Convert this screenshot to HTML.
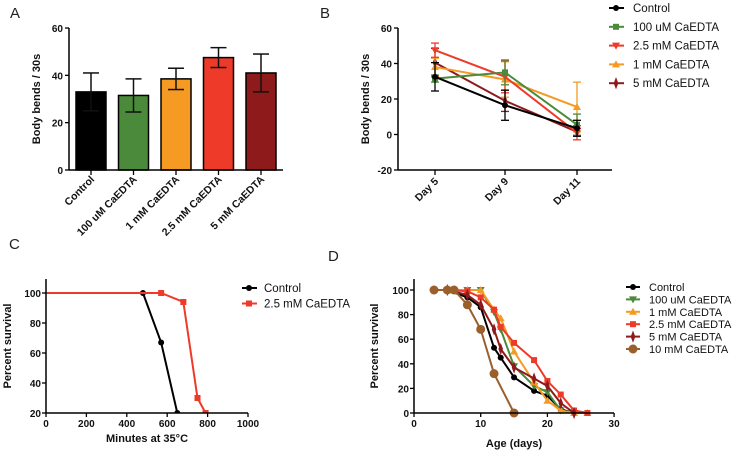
<!DOCTYPE html>
<html><head><meta charset="utf-8"><style>
body{margin:0;background:#fff;}
svg{display:block;font-family:"Liberation Sans",Arial,sans-serif;}
.tk{font-size:10px;font-weight:bold;fill:#111;}
.lg{font-size:11.5px;fill:#111;}
.pl{font-size:15px;fill:#222;}
.at{font-size:11px;font-weight:bold;fill:#111;}
</style></head><body>
<svg id="s" width="732" height="450" viewBox="0 0 732 450"></svg>
<script>
// Panel A data
const aCats=["Control","100 uM CaEDTA","1 mM CaEDTA","2.5 mM CaEDTA","5 mM CaEDTA"];
const aVals=[33,31.5,38.5,47.5,41];
const aErr=[8,7,4.5,4.2,8];
const aColors=["#000000","#4b8a3a","#f59a23","#ee3a28","#8e1a1c"];
// Panel B data
const bDays=["Day 5","Day 9","Day 11"];
const bNames=["Control","100 uM CaEDTA","2.5 mM CaEDTA","1 mM CaEDTA","5 mM CaEDTA"];
const bColors=["#000000","#4b8a3a","#ee3a28","#f59a23","#8e1a1c"];
const bVals=[[32.5,16.5,3.5],[31.5,35,5.5],[47.5,32.5,1],[38,31,15.5],[40.5,19,1.5]];
const bErr=[[8,8.5,4.5],[2,7,6],[4,9,4],[5,10,14],[8,6,2]];
const bTicks=[-20,0,20,40,60];
// Panel C data
const cNames=["Control","2.5 mM CaEDTA"];
const cColors=["#000000","#ee3a28"];
const cX=[[0,480,570,650],[0,570,680,750,790]];
const cY=[[100,100,67,20],[100,100,94,30,20]];
const cXT=[0,200,400,600,800,1000];
const cYT=[20,40,60,80,100];
// Panel D data
const dNames=["Control","100 uM CaEDTA","1 mM CaEDTA","2.5 mM CaEDTA","5 mM CaEDTA","10 mM CaEDTA"];
const dColors=["#000000","#4b8a3a","#f59a23","#ee3a28","#8e1a1c","#9a5f2a"];
const dX=[[5,8,10,12,13,15,18,20,22,24],[5,8,10,12,13,15,18,20,22,24],[5,8,10,12,13,15,18,20,22,24,26],[5,8,10,12,13,15,18,20,22,24,26],[5,8,10,12,13,15,18,20,22,24],[3,5,6,8,10,12,15]];
const dY=[[100,94,86,53,45,29,18,14,3,0],[100,100,100,82,68,38,22,17,2,0],[100,100,100,84,77,50,25,10,2,0,0],[100,99,94,84,70,57,43,26,15,2,0],[100,96,88,68,52,37,28,22,8,0],[100,100,100,88,68,32,0]];
const dXT=[0,10,20,30];
const dYT=[0,20,40,60,80,100];

const S=document.getElementById('s');const NS='http://www.w3.org/2000/svg';
function el(t,a,p){const e=document.createElementNS(NS,t);for(const k in a)e.setAttribute(k,a[k]);(p||S).appendChild(e);return e;}
function tx(x,y,s,c,a,nm,extra){const e=el('text',Object.assign({x:x,y:y,class:c,'text-anchor':a||'middle'},extra||{}));e.textContent=s;


return e;}
function ln(x1,y1,x2,y2,c,w,nm){const e=el('line',{x1,y1,x2,y2,stroke:c,'stroke-width':w});


return e;}
function marker(g,x,y,c,type,r){let e;
 if(type=='sq')e=el('rect',{x:x-3,y:y-3,width:6,height:6,fill:c},g);
 else if(type=='up')e=el('polygon',{points:`${x},${y-4} ${x-4},${y+3} ${x+4},${y+3}`,fill:c},g);
 else if(type=='dn')e=el('polygon',{points:`${x},${y+4} ${x-4},${y-3} ${x+4},${y-3}`,fill:c},g);
 else if(type=='st')e=el('polygon',{points:`${x},${y-4} ${x+1.5},${y} ${x},${y+4} ${x-1.5},${y}`,fill:c,stroke:c,'stroke-width':1.5},g);
 else e=el('circle',{cx:x,cy:y,r:r||3,fill:c},g);
 
 
}
// panel labels
tx(10,18,'A','pl','start','panel-label-a');tx(320,18,'B','pl','start','panel-label-b');
tx(9,249,'C','pl','start','panel-label-c');tx(328,261,'D','pl','start','panel-label-d');

// ---- Panel A
{const x0=69,y0=170,yT=28,ya=v=>y0-(v/60)*(y0-yT);const xc=i=>91+i*42.5;
 const g=el('g',{});
 aVals.forEach((v,i)=>{const r=el('rect',{x:xc(i)-15,y:ya(v),width:30,height:y0-ya(v),fill:aColors[i],stroke:'#000','stroke-width':1.5},g);
  
  
  const t=ya(v+aErr[i]),b=ya(v-aErr[i]);
  ln(xc(i),t,xc(i),b,'#111',1.5,'error-bar');ln(xc(i)-8,t,xc(i)+8,t,'#111',1.5,'error-cap');ln(xc(i)-8,b,xc(i)+8,b,'#111',1.5,'error-cap');
  ln(xc(i),y0,xc(i),y0+5,'#000',1.3,'x-tick');
  tx(xc(i)+4,y0+10,aCats[i],'tk','end','x-tick-label',{transform:`rotate(-45 ${xc(i)+4} ${y0+10})`,style:'font-size:10.5px'});});
 ln(x0,yT,x0,y0,'#000',1.5,'y-axis');ln(x0,y0,283,y0,'#000',1.5,'x-axis');
 [0,20,40,60].forEach(v=>{ln(x0-4,ya(v),x0,ya(v),'#000',1.3,'y-tick');tx(x0-6,ya(v)+4,v,'tk','end','y-tick-label');});
 tx(40,99,'Body bends / 30s','at','middle','y-axis-title',{transform:'rotate(-90 40 99)'});
}
// ---- Panel B
{const x0=398,y0=170,yT=28,ya=v=>y0-((v+20)/80)*(y0-yT);const xc=[435,505,577];const types=['ci','sq','dn','up','st'];
 ln(x0,yT,x0,y0,'#000',1.5,'y-axis');ln(x0,y0,612,y0,'#000',1.5,'x-axis');
 bTicks.forEach(v=>{ln(x0-4,ya(v),x0,ya(v),'#000',1.3,'y-tick');tx(x0-6,ya(v)+4,v,'tk','end','y-tick-label');});
 bDays.forEach((d,i)=>{ln(xc[i],y0,xc[i],y0+5,'#000',1.3,'x-tick');tx(xc[i]+4,y0+12,d,'tk','end','x-tick-label',{transform:`rotate(-45 ${xc[i]+4} ${y0+12})`,style:'font-size:10.5px'});});
 tx(369,99,'Body bends / 30s','at','middle','y-axis-title',{transform:'rotate(-90 369 99)'});
 for(let s=bVals.length-1;s>=0;s--){const g=el('g',{});
  const c=bColors[s];
  el('polyline',{points:bVals[s].map((v,i)=>xc[i]+','+ya(v)).join(' '),fill:'none',stroke:c,'stroke-width':2},g);
  bVals[s].forEach((v,i)=>{const t=ya(v+bErr[s][i]),b=ya(v-bErr[s][i]);
   el('line',{x1:xc[i],y1:t,x2:xc[i],y2:b,stroke:c,'stroke-width':1.3},g);
   el('line',{x1:xc[i]-4,y1:t,x2:xc[i]+4,y2:t,stroke:c,'stroke-width':1.3},g);
   el('line',{x1:xc[i]-4,y1:b,x2:xc[i]+4,y2:b,stroke:c,'stroke-width':1.3},g);
   marker(g,xc[i],ya(v),c,types[s]);});}
 bNames.forEach((n,i)=>{const y=8+i*18.8;ln(609,y,624,y,bColors[i],2,'legend-line');marker(S,616,y,bColors[i],types[i]);tx(633,y+4,n,'lg','start','legend-entry');});
}
// ---- Panel C
{const x0=46,y0=413,ya=v=>y0-(v-20)*1.5,xa=v=>x0+v*0.202;const types=['ci','sq'];
 const cl=document.createElementNS(NS,'clipPath');cl.setAttribute('id','cc');S.appendChild(cl);el('rect',{x:x0,y:270,width:210,height:y0-270},cl);
 cX.forEach((xs,s)=>{const g=el('g',{'clip-path':'url(#cc)'});
  el('polyline',{points:xs.map((x,i)=>xa(x)+','+ya(cY[s][i])).join(' '),fill:'none',stroke:cColors[s],'stroke-width':2},g);
  xs.forEach((x,i)=>{if(x>0)marker(g,xa(x),ya(cY[s][i]),cColors[s],types[s]);});});
 ln(x0,279,x0,y0,'#000',1.5,'y-axis');ln(x0,y0,248,y0,'#000',1.5,'x-axis');
 cYT.forEach(v=>{ln(x0-4,ya(v),x0,ya(v),'#000',1.3,'y-tick');tx(x0-5,ya(v)+4,v,'tk','end','y-tick-label');});
 cXT.forEach(v=>{ln(xa(v),y0,xa(v),y0+4,'#000',1.3,'x-tick');tx(xa(v),y0+14,v,'tk','middle','x-tick-label');});
 tx(147,442,'Minutes at 35°C','at','middle','x-axis-title');
 tx(11,346,'Percent survival','at','middle','y-axis-title',{transform:'rotate(-90 11 346)'});
 cNames.forEach((n,i)=>{const y=288+i*15.5;ln(242,y,257,y,cColors[i],2,'legend-line');marker(S,249,y,cColors[i],types[i]);tx(264,y+4,n,'lg','start','legend-entry');});
}
// ---- Panel D
{const x0=414,y0=413,ya=v=>y0-v*1.23,xa=v=>x0+v*6.67;const types=['ci','dn','up','sq','st','big'];
 dX.forEach((xs,s)=>{const g=el('g',{});
  el('polyline',{points:xs.map((x,i)=>xa(x)+','+ya(dY[s][i])).join(' '),fill:'none',stroke:dColors[s],'stroke-width':2},g);
  xs.forEach((x,i)=>marker(g,xa(x),ya(dY[s][i]),dColors[s],types[s],types[s]=='big'?4.5:3));});
 ln(x0,279,x0,y0,'#000',1.5,'y-axis');ln(x0,y0,614,y0,'#000',1.5,'x-axis');
 dYT.forEach(v=>{ln(x0-4,ya(v),x0,ya(v),'#000',1.3,'y-tick');tx(x0-5,ya(v)+4,v,'tk','end','y-tick-label');});
 dXT.forEach(v=>{ln(xa(v),y0,xa(v),y0+4,'#000',1.3,'x-tick');tx(xa(v),y0+14,v,'tk','middle','x-tick-label');});
 tx(514,447,'Age (days)','at','middle','x-axis-title');
 tx(378,346,'Percent survival','at','middle','y-axis-title',{transform:'rotate(-90 378 346)'});
 dNames.forEach((n,i)=>{const y=287+i*12.4;ln(626,y,640,y,dColors[i],2,'legend-line');marker(S,633,y,dColors[i],types[i],types[i]=='big'?4.5:3);tx(649,y+4,n,'lg','start','legend-entry',{style:'font-size:11px'});});
}
</script>
</body></html>
